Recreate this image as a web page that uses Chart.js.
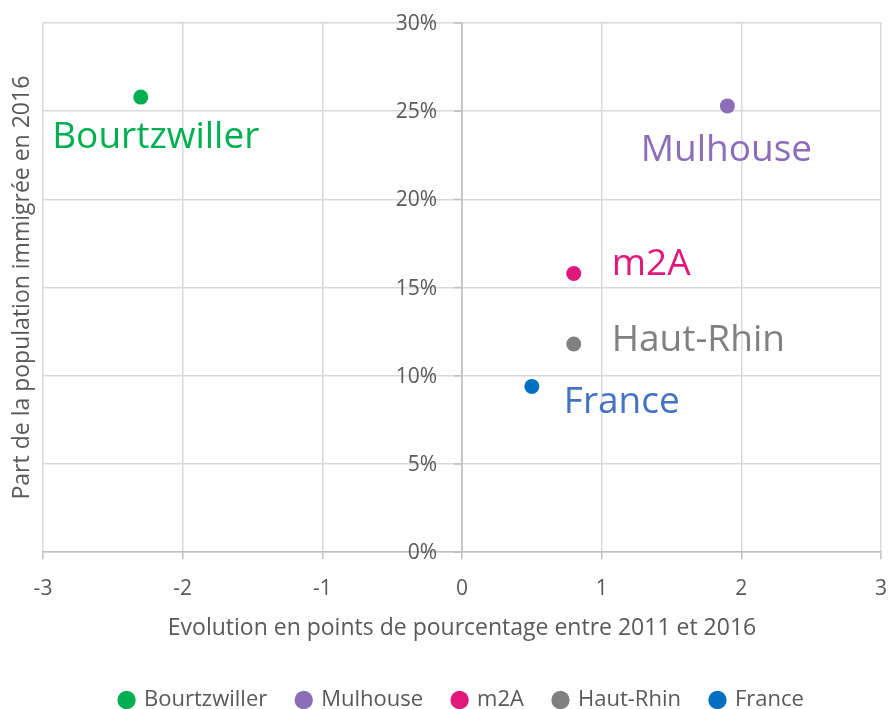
<!DOCTYPE html>
<html>
<head>
<meta charset="utf-8">
<script src="https://cdn.jsdelivr.net/npm/chart.js@4/dist/chart.umd.min.js"></script>
<style>
  html, body { margin: 0; padding: 0; background: #fff; }
  #wrap { width: 888px; height: 709px; }
</style>
</head>
<body>
<div id="wrap"><canvas id="chart" width="888" height="709"></canvas></div>
<script>
// data
const names = ['Bourtzwiller', 'Mulhouse', 'm2A', 'Haut-Rhin', 'France'];
const evolution = [-2.3, 1.9, 0.8, 0.8, 0.5];       // x: points de %
const partImmigree = [25.8, 25.3, 15.8, 11.8, 9.4];  // y: %
const xTicks = [-3, -2, -1, 0, 1, 2, 3];
const yTicks = [0, 5, 10, 15, 20, 25, 30];

const pointColors = ['#00B050', '#8B6DBA', '#E0187A', '#808080', '#0070C0'];
const labelColors = ['#00B050', '#8B6DBA', '#E0187A', '#808080', '#4472C4'];
// label placement relative to each point (dx, dy, align)
const labelPos = [
  { dx: 15, dy: 40, align: 'center' },
  { dx: -1, dy: 45, align: 'center' },
  { dx: 38, dy: -9, align: 'left' },
  { dx: 38, dy: -4, align: 'left' },
  { dx: 32, dy: 16, align: 'left' }
];

const FONT = "'Open Sans', 'Noto Sans', sans-serif";
const textGrey = '#595959';

const pointLabels = {
  id: 'pointLabels',
  afterDatasetsDraw(chart) {
    const ctx = chart.ctx;
    ctx.save();
    ctx.font = '37px ' + FONT;
    ctx.textBaseline = 'middle';
    chart.data.datasets.forEach((ds, i) => {
      const pt = chart.getDatasetMeta(i).data[0];
      ctx.fillStyle = labelColors[i];
      ctx.textAlign = labelPos[i].align;
      ctx.fillText(ds.label, pt.x + labelPos[i].dx, pt.y + labelPos[i].dy);
    });
    ctx.restore();
  }
};

// the y axis crosses at x = 0: line, tick marks and labels drawn from the scales
const yAxisDecor = {
  id: 'yAxisDecor',
  afterDraw(chart) {
    const ctx = chart.ctx;
    const a = chart.chartArea;
    const xs = chart.scales.x, ys = chart.scales.y;
    const x0 = xs.getPixelForValue(0);
    ctx.save();
    ctx.strokeStyle = '#BFBFBF';
    ctx.lineWidth = 1.5;
    ctx.beginPath();
    ctx.moveTo(x0, a.top);
    ctx.lineTo(x0, a.bottom);
    ctx.stroke();
    ctx.font = '21px ' + FONT;
    ctx.fillStyle = textGrey;
    ctx.textAlign = 'right';
    ctx.textBaseline = 'middle';
    yTicks.forEach(v => {
      const y = ys.getPixelForValue(v);
      ctx.beginPath();
      ctx.moveTo(x0 - 8, y);
      ctx.lineTo(x0, y);
      ctx.stroke();
      ctx.fillText(v + '%', x0 - 25, y + 1);
    });
    ctx.font = '23px ' + FONT;
    ctx.textAlign = 'center';
    ctx.translate(22, (a.top + a.bottom) / 2);
    ctx.rotate(-Math.PI / 2);
    ctx.fillText('Part de la population immigrée en 2016', 0, 0);
    ctx.restore();
  }
};

new Chart(document.getElementById('chart'), {
  type: 'scatter',
  data: {
    datasets: names.map((n, i) => ({
      label: n,
      data: [{ x: evolution[i], y: partImmigree[i] }],
      backgroundColor: pointColors[i],
      borderColor: pointColors[i],
      pointRadius: 7.5,
      pointHoverRadius: 7.5,
      borderWidth: 0
    }))
  },
  options: {
    responsive: false,
    animation: false,
    layout: { autoPadding: false, padding: { left: 43, top: 23, right: 7, bottom: -12 } },
    scales: {
      x: {
        type: 'linear',
        min: -3, max: 3,
        afterBuildTicks: s => { s.ticks = xTicks.map(v => ({ value: v })); },
        // tick padding would otherwise be added to the side margins
        afterFit: s => { s.paddingLeft = 0; s.paddingRight = 0; },
        grid: { color: '#D9D9D9', lineWidth: 1.5, tickColor: '#BFBFBF', tickLength: 7 },
        border: { color: '#BFBFBF', width: 1.5 },
        ticks: { color: textGrey, font: { family: FONT, size: 21 }, padding: 17 },
        title: {
          display: true,
          text: 'Evolution en points de pourcentage entre 2011 et 2016',
          color: textGrey,
          font: { family: FONT, size: 23 },
          padding: { top: -4, bottom: 17 }
        }
      },
      y: {
        type: 'linear',
        position: 'left',
        min: 0, max: 30,
        afterBuildTicks: s => { s.ticks = yTicks.map(v => ({ value: v })); },
        afterFit: s => { s.width = 0; },
        grid: { color: '#D9D9D9', lineWidth: 1.5, drawTicks: false },
        border: { display: false },
        ticks: { display: false }
      }
    },
    plugins: {
      legend: {
        position: 'bottom',
        labels: {
          usePointStyle: true,
          pointStyle: 'circle',
          boxWidth: 13,
          boxHeight: 13,
          padding: 30,
          color: textGrey,
          font: { family: FONT, size: 22 }
        }
      },
      tooltip: { enabled: false }
    }
  },
  plugins: [pointLabels, yAxisDecor]
});
</script>
</body>
</html>
